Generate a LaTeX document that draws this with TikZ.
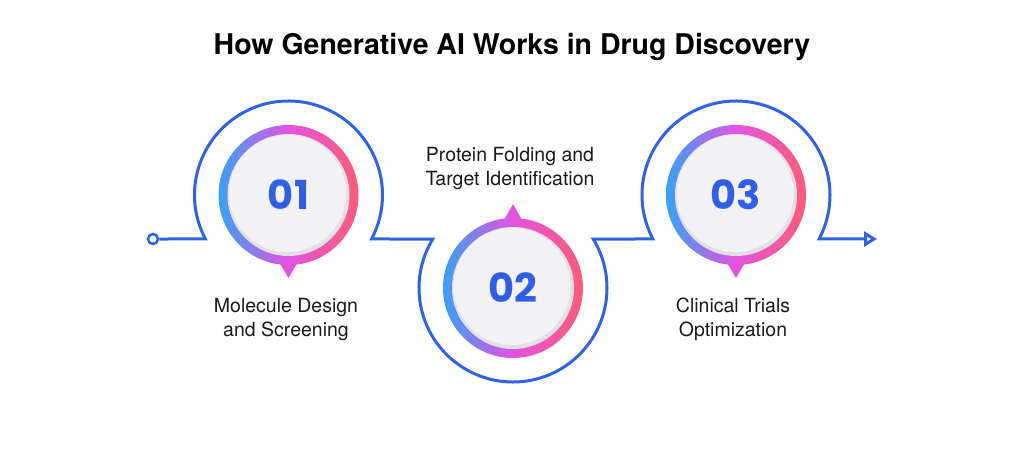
\documentclass[tikz,border=0pt]{standalone}
\usepackage{fontspec}
\setmainfont{TeX Gyre Heros}
\newfontfamily\numfont{Poppins}
\usetikzlibrary{arrows.meta,calc}

\definecolor{trackblue}{HTML}{2F63E6}
\definecolor{numblue}{HTML}{2E5FE6}
\definecolor{ringblue}{HTML}{38A2F6}
\definecolor{ringmag}{HTML}{E253DF}
\definecolor{ringpink}{HTML}{FF5B78}
\definecolor{discgray}{HTML}{F2F2F4}
\definecolor{discedge}{HTML}{E1E1E5}

\tikzset{
  track/.style={draw=trackblue, line width=3pt},
  numtext/.style={font=\numfont\bfseries\fontsize{40}{40}\selectfont, text=numblue},
  steptext/.style={font=\fontsize{19.5}{24}\selectfont, align=center, text=black!90},
}

\begin{document}
\begin{tikzpicture}[x=1pt,y=1pt]
\useasboundingbox (0,0) rectangle (1024,451);

\node[font=\bfseries\fontsize{28.5}{30}\selectfont] (title) at (512,404) {How Generative AI Works in Drug Discovery};

\coordinate (c1) at (288.5,256);
\coordinate (c2) at (513,163);
\coordinate (c3) at (736,256);

% pointers
\fill[ringmag] ($(c1)+(-10,-66)$) -- ($(c1)+(0,-83)$) -- ($(c1)+(10,-66)$) -- cycle;
\fill[ringmag] ($(c2)+(-10,66)$) -- ($(c2)+(0,84)$) -- ($(c2)+(10,66)$) -- cycle;
\fill[ringmag] ($(c3)+(-10,-66)$) -- ($(c3)+(0,-83)$) -- ($(c3)+(10,-66)$) -- cycle;

\foreach \c in {c1,c2,c3} {
  \shade[left color=ringblue, right color=ringpink, middle color=ringmag] (\c) circle[radius=70];
  \fill[discedge] (\c) circle[radius=61];
  \fill[discgray] ($(\c)+(-1,1.5)$) circle[radius=58.5];
}

\node[numtext] (n1) at (c1) {01};
\node[numtext] (n2) at (c2) {02};
\node[numtext] (n3) at (c3) {03};

\node[circle, draw=trackblue, line width=2.5pt, fill=white, inner sep=0pt, minimum size=10pt] (start) at (153,212) {};
\coordinate (end) at (877,212);

\draw[track, -{Triangle[open, length=13pt, width=15pt]}] (start.east)
  -- ($(c1)+(207.9:94)$) arc[start angle=207.9, end angle=-27.9, radius=94]
  -- ($(c2)+(148.6:94)$) arc[start angle=148.6, end angle=391.4, radius=94]
  -- ($(c3)+(207.9:94)$) arc[start angle=207.9, end angle=-27.9, radius=94]
  -- (end);

\node[steptext] (l1) at (286,131) {Molecule Design\\and Screening};
\node[steptext] (l2) at (510,282) {Protein Folding and\\Target Identification};
\node[steptext] (l3) at (733,132) {Clinical Trials\\Optimization};

\end{tikzpicture}
\end{document}
